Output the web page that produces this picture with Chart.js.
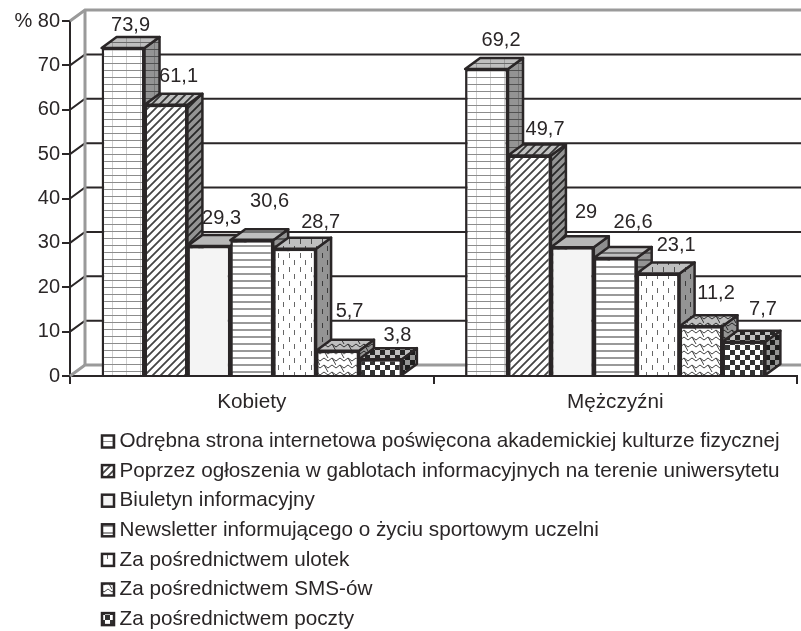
<!DOCTYPE html>
<html>
<head>
<meta charset="utf-8">
<script src="https://cdn.jsdelivr.net/npm/chart.js@4"></script>
<style>
  html, body { margin: 0; padding: 0; background: #fff; }
  #wrap { width: 801px; height: 631px; }
</style>
</head>
<body>
<div id="wrap"><canvas id="chart" width="801" height="631"></canvas></div>
<script>
const categories = ['Kobiety', 'Mężczyźni'];
const seriesNames = [
    'Odrębna strona internetowa poświęcona akademickiej kulturze fizycznej',
    'Poprzez ogłoszenia w gablotach informacyjnych na terenie uniwersytetu',
    'Biuletyn informacyjny',
    'Newsletter informującego o życiu sportowym uczelni',
    'Za pośrednictwem ulotek',
    'Za pośrednictwem SMS-ów',
    'Za pośrednictwem poczty'
];
const strona = [73.9, 69.2];
const ogloszenia = [61.1, 49.7];
const biuletyn = [29.3, 29];
const newsletter = [30.6, 26.6];
const ulotki = [28.7, 23.1];
const sms = [5.7, 11.2];
const poczta = [3.8, 7.7];
const yTicks = [0, 10, 20, 30, 40, 50, 60, 70, 80];

const ink = '#2a2627';
const wallGray = '#9a9a9a';
const depthX = 15;
const depthY = -11;
const fontFamily = '"Liberation Sans", Arial, sans-serif';

// small tiles for the hatched fills
function tile(w, h, paint) {
    const c = document.createElement('canvas');
    c.width = w;
    c.height = h;
    const g = c.getContext('2d');
    g.fillStyle = '#fff';
    g.fillRect(0, 0, w, h);
    paint(g);
    return document.createElement('canvas').getContext('2d').createPattern(c, 'repeat');
}

const fills = [
    tile(14, 7, g => {
        g.fillStyle = '#cfcfcf';
        g.fillRect(0, 0, 1, 7);
        g.fillStyle = '#8c8c8c';
        g.fillRect(0, 0, 14, 1);
    }),
    tile(8, 8, g => {
        g.strokeStyle = '#444';
        g.lineWidth = 1.8;
        g.beginPath();
        g.moveTo(-2, 10); g.lineTo(10, -2);
        g.moveTo(-2, 2); g.lineTo(2, -2);
        g.moveTo(6, 10); g.lineTo(10, 6);
        g.stroke();
    }),
    tile(4, 4, g => {
        g.fillStyle = '#f4f4f4';
        g.fillRect(0, 0, 4, 4);
    }),
    tile(4, 7, g => {
        g.fillStyle = '#999';
        g.fillRect(0, 0, 4, 2);
    }),
    tile(11, 14, g => {
        g.fillStyle = '#666';
        g.fillRect(3, 1, 1, 5);
        g.fillRect(8, 8, 1, 5);
    }),
    tile(16, 14, g => {
        g.strokeStyle = '#444';
        g.lineWidth = 1;
        g.beginPath();
        g.moveTo(0, 4); g.lineTo(4, 1); g.lineTo(8, 4); g.lineTo(12, 1); g.lineTo(16, 4);
        g.moveTo(0, 11); g.lineTo(4, 8); g.lineTo(8, 11); g.lineTo(12, 8); g.lineTo(16, 11);
        g.moveTo(4, 1); g.lineTo(8, 8); g.moveTo(12, 8); g.lineTo(16, 15); g.moveTo(12, -6); g.lineTo(16, 1);
        g.stroke();
    }),
    tile(10, 10, g => {
        g.fillStyle = '#333';
        g.fillRect(0, 0, 5, 5);
        g.fillRect(5, 5, 5, 5);
    })
];

const seriesValues = [strona, ogloszenia, biuletyn, newsletter, ulotki, sms, poczta];

function drawWall(chart) {
    const { ctx, scales: { y }, chartArea: a } = chart;
    ctx.save();
    yTicks.forEach(v => {
        const py = y.getPixelForValue(v);
        const edge = v === 0 || v === 80;
        ctx.strokeStyle = edge ? wallGray : ink;
        ctx.lineWidth = edge ? 3 : 2;
        ctx.beginPath();
        ctx.moveTo(a.left, py);
        ctx.lineTo(a.left + depthX, py + depthY);
        ctx.lineTo(801, py + depthY);
        ctx.stroke();
    });
    ctx.strokeStyle = wallGray;
    ctx.lineWidth = 3;
    ctx.beginPath();
    ctx.moveTo(a.left + depthX, y.getPixelForValue(80) + depthY);
    ctx.lineTo(a.left + depthX, y.getPixelForValue(0) + depthY);
    ctx.stroke();
    ctx.restore();
}

// side and top faces of one dataset's bars
function drawDepth(chart, meta, fill) {
    const { ctx } = chart;
    meta.data.forEach(bar => {
        const { x, y, base, width } = bar.getProps(['x', 'y', 'base', 'width'], true);
        const l = x - width / 2;
        const r = x + width / 2;
        const faces = [
            { pts: [[r, y], [r + depthX, y + depthY], [r + depthX, base + depthY], [r, base]], shade: 'rgba(0,0,0,.42)' },
            { pts: [[l, y], [l + depthX, y + depthY], [r + depthX, y + depthY], [r, y]], shade: 'rgba(0,0,0,.25)' }
        ];
        ctx.save();
        ctx.lineJoin = 'round';
        faces.forEach(face => {
            ctx.beginPath();
            face.pts.forEach((p, i) => i ? ctx.lineTo(p[0], p[1]) : ctx.moveTo(p[0], p[1]));
            ctx.closePath();
            ctx.fillStyle = fill;
            ctx.fill();
            ctx.fillStyle = face.shade;
            ctx.fill();
            ctx.strokeStyle = ink;
            ctx.lineWidth = 2.5;
            ctx.stroke();
        });
        ctx.restore();
    });
}

// chart.js paints the first dataset last, here the next bar has to cover the side of the one before
const paintOrder = {
    id: 'paintOrder',
    beforeDatasetsDraw(chart) {
        drawWall(chart);
        chart.data.datasets.forEach((ds, i) => {
            const meta = chart.getDatasetMeta(i);
            drawDepth(chart, meta, ds.backgroundColor);
            meta.controller.draw();
        });
        return false;
    }
};

// value labels above the bars, nudged by hand like in the original
const labelShift = [
    [[7.5, -12], [14.5, -17]],
    [[12.6, -17], [15.6, -15]],
    [[12.7, -16], [13.7, -24]],
    [[17.8, -28], [17.8, -24]],
    [[26, -15], [18, -17]],
    [[12, -28], [15, -22]],
    [[17, -13], [19, -21]]
];
const valueLabels = {
    id: 'valueLabels',
    afterDraw(chart) {
        const { ctx } = chart;
        ctx.save();
        ctx.font = '20px ' + fontFamily;
        ctx.fillStyle = ink;
        ctx.textAlign = 'center';
        ctx.textBaseline = 'middle';
        chart.data.datasets.forEach((ds, i) => {
            chart.getDatasetMeta(i).data.forEach((bar, j) => {
                const s = labelShift[i][j];
                const text = String(ds.data[j]).replace('.', ',');
                ctx.fillText(text, bar.x + s[0], bar.y + depthY + s[1]);
            });
        });
        ctx.restore();
    }
};

// one entry per row, the built-in legend would merge short ones into a row
const listLegend = {
    id: 'listLegend',
    afterDraw(chart) {
        const { ctx } = chart;
        ctx.save();
        ctx.font = '20.7px ' + fontFamily;
        ctx.textBaseline = 'middle';
        chart.data.datasets.forEach((ds, i) => {
            const cy = 441.5 + i * 29.6;
            ctx.fillStyle = ds.backgroundColor;
            ctx.fillRect(102, cy - 6, 12, 12);
            ctx.strokeStyle = ink;
            ctx.lineWidth = 2.5;
            ctx.strokeRect(102, cy - 6, 12, 12);
            ctx.fillStyle = ink;
            ctx.fillText(ds.label, 119.5, cy);
        });
        ctx.restore();
    }
};

new Chart(document.getElementById('chart'), {
    type: 'bar',
    data: {
        labels: categories,
        datasets: seriesNames.map((name, i) => ({
            label: name,
            data: seriesValues[i],
            backgroundColor: fills[i],
            borderColor: ink,
            borderWidth: 2.5
        }))
    },
    options: {
        responsive: false,
        animation: false,
        layout: { padding: { top: 21, right: 4, left: 0, bottom: 0 } },
        datasets: { bar: { categoryPercentage: 0.826, barPercentage: 1 } },
        plugins: {
            legend: { display: false },
            tooltip: { enabled: false }
        },
        scales: {
            x: {
                afterFit: s => { s.height = 255; },
                border: { color: ink, width: 2 },
                grid: { drawOnChartArea: false, color: ink, lineWidth: 2, tickLength: 8 },
                ticks: { color: ink, font: { family: fontFamily, size: 20.7 }, padding: 6 }
            },
            y: {
                min: 0,
                max: 80,
                afterFit: s => { s.width = 70; },
                border: { color: ink, width: 2 },
                grid: { drawOnChartArea: false, color: ink, lineWidth: 2, tickLength: 8 },
                ticks: {
                    stepSize: 10,
                    color: ink,
                    padding: 2,
                    font: { family: fontFamily, size: 20 },
                    callback: v => (v === 80 ? '% 80' : v)
                }
            }
        }
    },
    plugins: [paintOrder, valueLabels, listLegend]
});
</script>
</body>
</html>
